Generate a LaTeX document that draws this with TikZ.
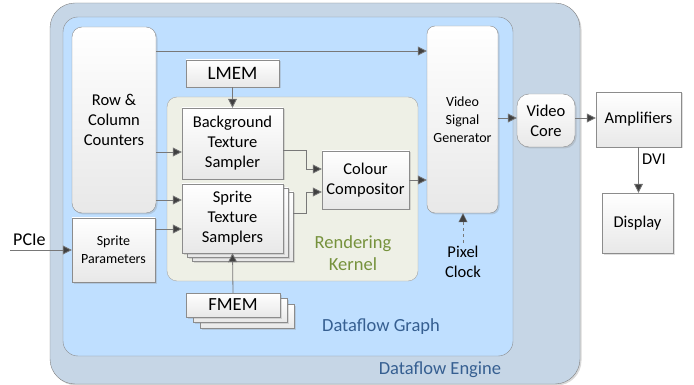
\documentclass[tikz,border=0pt]{standalone}
\usepackage{fontspec}
\setmainfont{Carlito}
\usetikzlibrary{arrows.meta, positioning, shadows}
\usepackage{xcolor}
\definecolor{EngineFill}{RGB}{198, 214, 230}
\definecolor{GraphFill}{RGB}{191, 223, 255}
\definecolor{KernelFill}{RGB}{238, 240, 230}
\definecolor{KernelText}{RGB}{118, 146, 60}
\definecolor{FlowText}{RGB}{54, 95, 145}
\definecolor{LineGray}{RGB}{120, 120, 120}
\definecolor{TipGray}{RGB}{64, 64, 64}

\begin{document}
\begin{tikzpicture}[
    x=1pt, y=-1pt,
    box/.style={rectangle, draw=black!45, top color=white, bottom color=black!9,
                drop shadow={shadow xshift=1.5pt, shadow yshift=-1.5pt, opacity=0.25},
                align=center, inner sep=1pt, font=\fontsize{16.5}{20}\selectfont},
    smallbox/.style={box, font=\fontsize{14}{18}\selectfont},
    arrow/.style={-{Triangle[length=9pt, width=9pt, fill=TipGray]}, LineGray, thick},
    tag/.style={align=center, font=\fontsize{16.5}{20}\selectfont}
  ]
    \useasboundingbox (0,0) rectangle (694,385);
    % containers
    \draw[rounded corners=25pt, draw=black!50, fill=EngineFill,
          drop shadow={shadow xshift=1.5pt, shadow yshift=-1.5pt, opacity=0.3}]
          (50,3) rectangle (580,384);
    \draw[rounded corners=15pt, draw=black!45, fill=GraphFill] (63,17) rectangle (513,356);
    \draw[rounded corners=10pt, draw=black!35, fill=KernelFill] (167,97) rectangle (418,281);
    \node[font=\fontsize{18.5}{22}\selectfont, text=KernelText, align=center] (rklabel)
         at (353,253) {Rendering\\Kernel};
    \node[font=\fontsize{18.5}{22}\selectfont, text=FlowText] (dglabel) at (381,327) {Dataflow Graph};
    \node[font=\fontsize{18.5}{22}\selectfont, text=FlowText] (delabel) at (440,370) {Dataflow Engine};

    % blocks
    \node[box, rounded corners=10pt, minimum width=84pt, minimum height=186pt] (rcc)
         at (114,120) {Row \&\\Column\\Counters};
    \node[smallbox, minimum width=83pt, minimum height=64pt] (sp) at (113.5,250) {Sprite\\Parameters};
    \node[box, minimum width=93pt, minimum height=27pt, font=\fontsize{19}{22}\selectfont] (lmem)
         at (232.5,73.5) {LMEM};
    \node[box, minimum width=101pt, minimum height=71pt] (bts) at (232.5,143.5)
         {Background\\Texture\\Sampler};
    \node[box, minimum width=101pt, minimum height=69pt] (sts3) at (242.5,226.5) {};
    \node[box, minimum width=101pt, minimum height=69pt] (sts2) at (237.5,222.5) {};
    \node[box, minimum width=101pt, minimum height=69pt] (sts) at (232.5,218.5)
         {Sprite\\Texture\\Samplers};
    \node[box, minimum width=94pt, minimum height=24pt] (fmem3) at (247,316) {};
    \node[box, minimum width=94pt, minimum height=24pt] (fmem2) at (240,310.5) {};
    \node[box, minimum width=94pt, minimum height=24pt, font=\fontsize{18.5}{22}\selectfont] (fmem)
         at (233,305) {FMEM};
    \node[box, minimum width=87pt, minimum height=58pt] (cc) at (365.5,180) {Colour\\Compositor};
    \node[smallbox, rounded corners=8pt, minimum width=71pt, minimum height=187pt] (vsg)
         at (462.5,119.5) {Video\\Signal\\Generator};
    \node[box, rounded corners=12pt, minimum width=58pt, minimum height=53pt] (vc)
         at (546,120.5) {Video\\Core};
    \node[box, minimum width=85pt, minimum height=55pt] (amp) at (638.5,119.5) {Amplifiers};
    \node[box, minimum width=71pt, minimum height=60pt] (disp) at (637.5,223) {Display};

    % labels
    \node[tag] (pclk) at (463,262) {Pixel\\Clock};
    \node[font=\fontsize{18}{22}\selectfont, anchor=south west, inner sep=1pt] (pcielabel)
         at (12,247) {PCIe};
    \coordinate (pcie) at (10,250);
    \node[tag, anchor=west, inner sep=1pt] (dvi) at (641,159) {DVI};

    % connections
    \draw[arrow] (rcc.east |- 0,51) -- (vsg.west |- 0,51);
    \draw[arrow] (rcc.east |- 0,152) -- (bts.west |- 0,152);
    \draw[arrow] (rcc.east |- 0,200) -- (sts.west |- 0,200);
    \draw[arrow] (sp.east |- 0,229) -- (sts.west |- 0,229);
    \draw[arrow] (pcie) -- (sp.west |- pcie);
    \draw[arrow] (lmem.south) -- (bts.north);
    \draw[arrow] (fmem.north) -- (sts.south);
    \draw[arrow] (bts.east |- 0,150) -- (306,150) -- (306,169) -- (cc.west |- 0,169);
    \draw[arrow] (sts3.east |- 0,213) -- (306,213) -- (306,192) -- (cc.west |- 0,192);
    \draw[arrow] (cc.east) -- (vsg.west |- cc.east);
    \draw[arrow] (vsg.east |- 0,118) -- (vc.west |- 0,118);
    \draw[arrow] (vc.east |- 0,118) -- (amp.west |- 0,118);
    \draw[arrow] (amp.south) -- (amp.south |- disp.north);
    \draw[arrow, dashed, thin] (pclk.north) -- (pclk.north |- vsg.south);
  \end{tikzpicture}
\end{document}
